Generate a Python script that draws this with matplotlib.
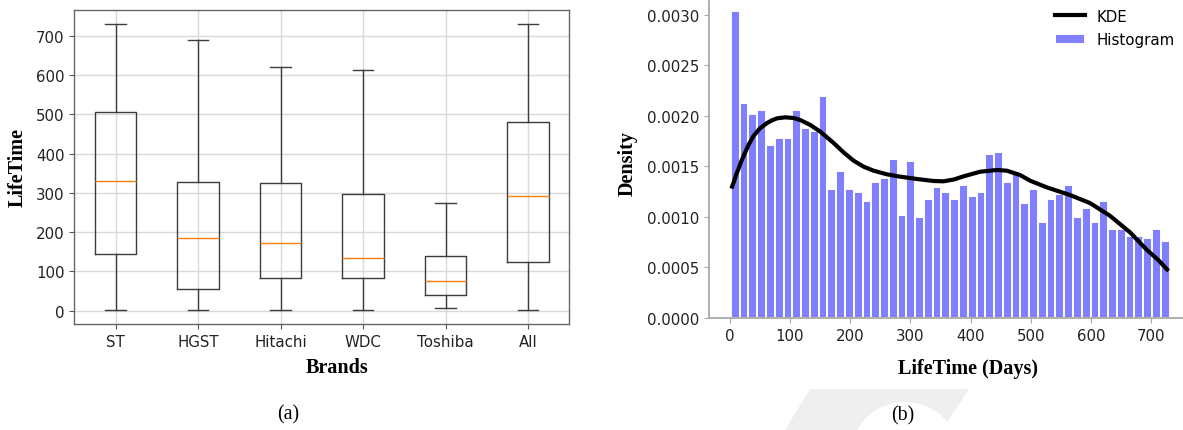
import numpy as np
import matplotlib
matplotlib.use("Agg")
import matplotlib.pyplot as plt
from matplotlib.patches import Polygon, Ellipse

# ---------------- data ----------------
brands = ["ST", "HGST", "Hitachi", "WDC", "Toshiba", "All"]
whis_lo = [2, 2, 2, 2, 6, 2]
q1 = [143, 54, 84, 82, 39, 124]
median = [330, 185, 171, 133, 75, 293]
q3 = [505, 327, 325, 298, 139, 482]
whis_hi = [730, 691, 622, 613, 274, 730]

hist_density = [
    0.003033, 0.002126, 0.002018, 0.002060, 0.001711, 0.001784, 0.001784, 0.002060,
    0.001879, 0.001849, 0.002196, 0.001276, 0.001457, 0.001276, 0.001249, 0.001160,
    0.001348, 0.001388, 0.001573, 0.001019, 0.001553, 0.000999, 0.001177, 0.001296,
    0.001249, 0.001177, 0.001319, 0.001207, 0.001249, 0.001622, 0.001642, 0.001348,
    0.001454, 0.001137, 0.001276, 0.000953, 0.001177, 0.001226, 0.001319, 0.000999,
    0.001088, 0.000953, 0.001160, 0.000880, 0.000880, 0.000811, 0.000811, 0.000788,
    0.000880, 0.000762,
]
hist_min, hist_max = 2, 730

kde_x = [4, 6.6, 10.5, 14.9, 18.8, 23.2, 31, 39.8, 50, 62, 70, 78.6, 92.4, 106.1, 117.2,
         133.8, 150.4, 161.5, 172.5, 189, 205.6, 222.2, 238.8, 261, 283, 310.8, 338.3,
         354.9, 372, 388, 415.8, 443.4, 460, 482, 498.7, 526.4, 565, 598, 631, 664.5,
         692, 712, 726]
kde_y = [0.001300, 0.001342, 0.001415, 0.001480, 0.001545, 0.001605, 0.001710, 0.001803,
         0.001875, 0.001929, 0.001955, 0.001975, 0.001985, 0.001978, 0.001958, 0.001909,
         0.001843, 0.001787, 0.001731, 0.001638, 0.001556, 0.001497, 0.001457, 0.001421,
         0.001398, 0.001375, 0.001355, 0.001352, 0.001370, 0.001401, 0.001447, 0.001464,
         0.001457, 0.001414, 0.001358, 0.001292, 0.001216, 0.001137, 0.001012, 0.000847,
         0.000676, 0.000570, 0.000480]

W, H = 1183, 431
fig = plt.figure(figsize=(W / 100, H / 100), dpi=100)

def fx(px):
    return px / W

def fy(py):
    return 1 - py / H

tick_fs = 10.8
lab_font = dict(family="Liberation Serif", weight="bold", size=14.5)
cap_font = dict(family="Liberation Serif", size=14.3)

# ---------------- watermark ----------------
poly = Polygon([(fx(785), fy(431)), (fx(810), fy(390)), (fx(969), fy(390)), (fx(942), fy(431))],
               closed=True, transform=fig.transFigure, facecolor="#efefef", edgecolor="none", zorder=0)
fig.add_artist(poly)
r = 55.1
hole = Ellipse((fx(905), fy(458)), 2 * r / W, 2 * r / H, transform=fig.transFigure,
               facecolor="white", edgecolor="none", zorder=0.5)
fig.add_artist(hole)
hole.set_clip_path(poly)

# ---------------- left: boxplot ----------------
axL = fig.add_axes([fx(74.3), fy(325), (569.3 - 74.3) / W, (325 - 11) / H])
stats = []
for i, b in enumerate(brands):
    stats.append(dict(label=b, whislo=whis_lo[i], q1=q1[i], med=median[i], q3=q3[i],
                      whishi=whis_hi[i], fliers=[]))
line_c = "#3c3c3c"
axL.bxp(stats, showfliers=False, widths=0.5,
        boxprops=dict(color=line_c, linewidth=1.0),
        whiskerprops=dict(color=line_c, linewidth=1.0),
        capprops=dict(color=line_c, linewidth=1.0),
        medianprops=dict(color="#ff7f0e", linewidth=1.0))
axL.set_ylim(-34.4, 766.4)
axL.set_xlim(0.5, 6.5)
axL.set_yticks([0, 100, 200, 300, 400, 500, 600, 700])
axL.grid(True, color="#d9d9d9", linewidth=1.0)
axL.set_axisbelow(True)
for s in axL.spines.values():
    s.set_color("#666666")
    s.set_linewidth(1.0)
axL.tick_params(labelsize=tick_fs, colors="#555555", labelcolor="#222222", length=3.5)

fig.text(fx(17.3), fy(168), "LifeTime", rotation=90, ha="center", va="center", **lab_font)
fig.text(fx(337.3), fy(368), "Brands", ha="center", va="center", **lab_font)
fig.text(fx(288), fy(415), "(a)", ha="center", va="center", zorder=3, **cap_font)

# ---------------- right: histogram + KDE ----------------
ylim_top = 0.003185
x_left, x_right = -34.4, 766.4
px_per_day = 0.603
right_px = 729.3 + x_right * px_per_day
top_px = 319 - ylim_top / 0.003 * 303.3
axR = fig.add_axes([fx(709), fy(319), (right_px - 709) / W, (319 - top_px) / H])

edges = np.linspace(hist_min, hist_max, len(hist_density) + 1)
bw = edges[1] - edges[0]
axR.bar(edges[:-1], hist_density, width=bw, align="edge", color="#8080ff",
        edgecolor="white", linewidth=1.4, label="Histogram", zorder=2)
axR.plot(kde_x, kde_y, color="black", linewidth=3.0, label="KDE", zorder=3,
         solid_joinstyle="round")
axR.set_xlim(x_left, x_right)
axR.set_ylim(0, ylim_top)
axR.set_xticks([0, 100, 200, 300, 400, 500, 600, 700])
axR.set_yticks([0, 0.0005, 0.0010, 0.0015, 0.0020, 0.0025, 0.0030])
axR.set_yticklabels(["0.0000", "0.0005", "0.0010", "0.0015", "0.0020", "0.0025", "0.0030"])
for s in ["top", "right"]:
    axR.spines[s].set_visible(False)
for s in ["left", "bottom"]:
    axR.spines[s].set_color("#a8a8a8")
    axR.spines[s].set_linewidth(1.3)
axR.tick_params(labelsize=tick_fs, colors="#a8a8a8", labelcolor="#222222", length=3.5)

handles, labels = axR.get_legend_handles_labels()
order = [labels.index("KDE"), labels.index("Histogram")]
axR.legend([handles[i] for i in order], [labels[i] for i in order],
           loc="upper left", bbox_to_anchor=(fx(1049), fy(3.5)), bbox_transform=fig.transFigure,
           frameon=False, fontsize=tick_fs, labelspacing=0.58, borderaxespad=0)

fig.text(fx(627.7), fy(163), "Density", rotation=90, ha="center", va="center", **lab_font)
fig.text(fx(967.5), fy(369), "LifeTime (Days)", ha="center", va="center", **lab_font)
fig.text(fx(903), fy(416), "(b)", ha="center", va="center", zorder=3, **cap_font)

fig.savefig("out.png", dpi=100)
